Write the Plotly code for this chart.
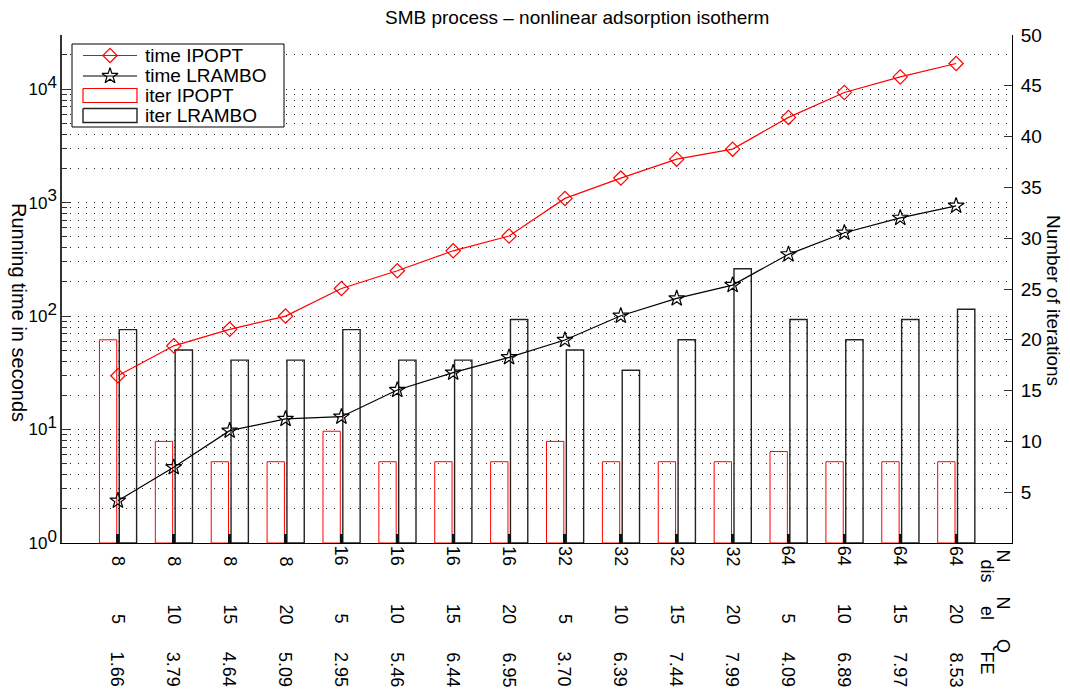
import math
import plotly.graph_objects as go

# Test cases: discretisation points, finite elements, quality measure
n_dis = [8, 8, 8, 8, 16, 16, 16, 16, 32, 32, 32, 32, 64, 64, 64, 64]
n_el = [5, 10, 15, 20, 5, 10, 15, 20, 5, 10, 15, 20, 5, 10, 15, 20]
q_fe = ["1.66", "3.79", "4.64", "5.09", "2.95", "5.46", "6.44", "6.95",
        "3.70", "6.39", "7.44", "7.99", "4.09", "6.89", "7.97", "8.53"]

# Running times in seconds
time_ipopt = [29.8, 54.7, 76.4, 100, 175, 251, 376, 507,
              1089, 1644, 2416, 2960, 5637, 9350, 12820, 16830]
time_lrambo = [2.36, 4.65, 9.77, 12.4, 12.97, 22.3, 31.7, 43.3,
               61.5, 100.6, 143, 187.6, 350, 542, 734, 937]

# Number of iterations
iter_ipopt = [20, 10, 8, 8, 11, 8, 8, 8, 10, 8, 8, 8, 9, 8, 8, 8]
iter_lrambo = [21, 19, 18, 18, 21, 18, 18, 22, 19, 17, 20, 27, 22, 20, 22, 23]

log_ticks = [1, 10, 100, 1000, 10000]
log_ticktext = ["10<sup><span style='font-size:17px'>%d</span></sup>" % i for i in range(5)]
iter_ticks = [5, 10, 15, 20, 25, 30, 35, 40, 45, 50]

FONT = "Liberation Sans, Arial, Helvetica, sans-serif"
W, H = 1070, 694
L, R, T, B = 62, 1012, 35, 543  # plot area in pixels


def px_x(px):
    return (px - L) / (R - L)


def px_y(py):
    return (B - py) / (B - T)


cats = list(range(1, len(n_dis) + 1))

fig = go.Figure()

# Iteration bars on the right (linear) axis
fig.add_trace(go.Bar(
    x=cats, y=iter_ipopt, name="iter IPOPT", xaxis="x", yaxis="y",
    width=0.31, offset=-0.33,
    marker=dict(color="rgba(0,0,0,0)", line=dict(color="#ff0000", width=1)),
    showlegend=False,
))
fig.add_trace(go.Bar(
    x=cats, y=iter_lrambo, name="iter LRAMBO", xaxis="x", yaxis="y",
    width=0.31, offset=0.025,
    marker=dict(color="rgba(0,0,0,0)", line=dict(color="#222222", width=1.4)),
    showlegend=False,
))

# Running time lines on the left (log) axis
fig.add_trace(go.Scatter(
    x=cats, y=time_ipopt, name="time IPOPT", xaxis="x", yaxis="y2",
    mode="lines+markers",
    line=dict(color="#ff0000", width=1.2),
    marker=dict(symbol="diamond-open", size=11, color="#ff0000", line=dict(width=1.2)),
    showlegend=False,
))
fig.add_trace(go.Scatter(
    x=cats, y=time_lrambo, name="time LRAMBO", xaxis="x", yaxis="y2",
    mode="lines+markers",
    line=dict(color="#000000", width=1.2),
    marker=dict(symbol="star-open", size=12, color="#000000", line=dict(width=1.2)),
    showlegend=False,
))

# Legend box, drawn on a pixel-unit overlay
lg_x0, lg_x1, lg_y0, lg_y1 = 72, 284, 44, 127
sym_x0, sym_x1 = 83, 137
row_y = [55.5, 76, 95.5, 115.5]
legend_names = ["time IPOPT", "time LRAMBO", "iter IPOPT", "iter LRAMBO"]

fig.add_trace(go.Scatter(
    x=[lg_x0, lg_x1, lg_x1, lg_x0, lg_x0], y=[lg_y0, lg_y0, lg_y1, lg_y1, lg_y0],
    xaxis="x2", yaxis="y3", mode="lines", fill="toself", fillcolor="white",
    line=dict(color="black", width=1), showlegend=False, hoverinfo="skip",
))
for ry, col, sym, sz in [(row_y[0], "#ff0000", "diamond-open", 11),
                          (row_y[1], "#000000", "star-open", 12)]:
    fig.add_trace(go.Scatter(
        x=[sym_x0, sym_x1], y=[ry, ry], xaxis="x2", yaxis="y3", mode="lines",
        line=dict(color=col, width=1.2), showlegend=False, hoverinfo="skip",
    ))
    fig.add_trace(go.Scatter(
        x=[(sym_x0 + sym_x1) / 2], y=[ry], xaxis="x2", yaxis="y3", mode="markers",
        marker=dict(symbol=sym, size=sz, color=col, line=dict(width=1.2)),
        showlegend=False, hoverinfo="skip",
    ))
for ry, col, lw in [(row_y[2], "#ff0000", 1.2), (row_y[3], "#222222", 1.4)]:
    fig.add_trace(go.Scatter(
        x=[sym_x0, sym_x1, sym_x1, sym_x0, sym_x0],
        y=[ry - 7, ry - 7, ry + 7, ry + 7, ry - 7],
        xaxis="x2", yaxis="y3", mode="lines",
        line=dict(color=col, width=lw), showlegend=False, hoverinfo="skip",
    ))

annotations = []
for name, ry in zip(legend_names, row_y):
    annotations.append(dict(
        text=name, xref="paper", yref="paper", x=px_x(143), y=px_y(ry),
        xanchor="left", yanchor="middle", showarrow=False,
        font=dict(family=FONT, size=19, color="black"),
    ))

# Rotated category labels, three rows
rows = [(n_dis, 568), (n_el, 626), (q_fe, 689)]
for values, bottom_px in rows:
    for c, v in zip(cats, values):
        annotations.append(dict(
            text=str(v), xref="x", yref="paper", x=c, y=px_y(bottom_px),
            xanchor="center", yanchor="bottom", textangle=90, showarrow=False,
            font=dict(family=FONT, size=18, color="black"),
        ))

# Row captions N_dis, N_el, Q_FE
captions = [("N", "dis", 547, 557), ("N", "el", 594, 604), ("Q", "FE", 637, 649)]
for main, sub, main_top, sub_top in captions:
    annotations.append(dict(
        text=main, xref="paper", yref="paper", x=px_x(1003), y=px_y(main_top),
        xanchor="center", yanchor="top", textangle=90, showarrow=False,
        font=dict(family=FONT, size=18, color="black"),
    ))
    annotations.append(dict(
        text=sub, xref="paper", yref="paper", x=px_x(987), y=px_y(sub_top),
        xanchor="center", yanchor="top", textangle=90, showarrow=False,
        font=dict(family=FONT, size=18, color="black"),
    ))

# Axis titles and chart title
annotations.append(dict(
    text="Running time in seconds", xref="paper", yref="paper",
    x=px_x(19), y=px_y(312), xanchor="center", yanchor="middle",
    textangle=90, showarrow=False, font=dict(family=FONT, size=20, color="black"),
))
annotations.append(dict(
    text="Number of iterations", xref="paper", yref="paper",
    x=px_x(1054), y=px_y(300), xanchor="center", yanchor="middle",
    textangle=90, showarrow=False, font=dict(family=FONT, size=19, color="black"),
))
annotations.append(dict(
    text="SMB process \u2013 nonlinear adsorption isotherm", xref="paper", yref="paper",
    x=px_x(577), y=px_y(17), xanchor="center", yanchor="middle",
    showarrow=False, font=dict(family=FONT, size=19, color="black"),
))

minor_vals = [m * 10 ** d for d in range(5) for m in range(2, 10) if m * 10 ** d <= 30000]
GRID_DASH = "1px,7px"

fig.update_layout(
    width=W, height=H,
    margin=dict(l=L, r=W - R, t=T, b=H - B, pad=0),
    paper_bgcolor="white", plot_bgcolor="white",
    font=dict(family=FONT, size=19, color="black"),
    barmode="overlay",
    showlegend=False,
    xaxis=dict(
        range=[0, 17], tickvals=cats, showticklabels=False,
        ticks="inside", ticklen=9, tickwidth=3, tickcolor="#111111",
        showline=True, linecolor="black", linewidth=1,
        showgrid=False, zeroline=False,
    ),
    yaxis=dict(
        side="right", range=[0, 50], tickvals=iter_ticks,
        ticks="inside", ticklen=8, tickwidth=1, tickcolor="#333333",
        showline=True, linecolor="black", linewidth=1,
        showgrid=False, zeroline=False,
        tickfont=dict(family=FONT, size=19, color="black"),
        ticklabelstandoff=4,
    ),
    yaxis2=dict(
        overlaying="y", side="left", type="log",
        range=[0, math.log10(30000)],
        tickvals=log_ticks, ticktext=log_ticktext,
        ticks="inside", ticklen=8, tickwidth=1, tickcolor="#333333",
        showline=True, linecolor="#333333", linewidth=1.5,
        showgrid=True, gridcolor="#222222", gridwidth=1, griddash=GRID_DASH,
        zeroline=False,
        tickfont=dict(family=FONT, size=17, color="black"),
        minor=dict(
            tickvals=minor_vals, ticks="inside", ticklen=5, tickwidth=1,
            tickcolor="#333333", showgrid=True, gridcolor="#222222",
            gridwidth=1, griddash=GRID_DASH,
        ),
    ),
    xaxis2=dict(overlaying="x", range=[L, R], visible=False, showgrid=False),
    yaxis3=dict(overlaying="y", range=[B, T], visible=False, showgrid=False),
    annotations=annotations,
)

fig.write_html("out.html")
